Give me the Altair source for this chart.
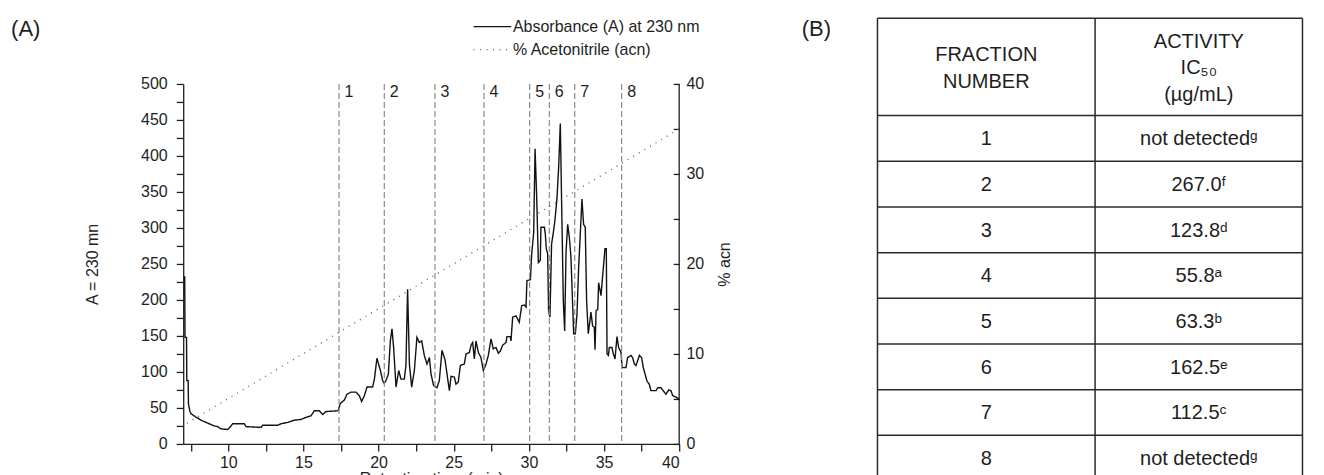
import altair as alt
import pandas as pd

FONT = "Liberation Sans"
INK = "#1e1e1e"

# ---------------- (A) chromatogram data ----------------
abs_time = [
    7.00, 7.10, 7.12, 7.22, 7.24, 7.33, 7.35, 7.45, 7.52, 7.80,
    8.18, 8.62, 9.07, 9.30, 9.51, 9.96, 10.18, 10.29, 11.07, 11.18,
    12.18, 12.29, 13.29, 13.51, 13.96, 14.39, 14.84, 15.17, 15.50, 15.72,
    16.05, 16.28, 16.50, 17.28, 17.32, 17.45, 17.61, 17.72, 17.90, 18.16,
    18.50, 18.72, 18.87, 19.05, 19.23, 19.60, 19.72, 19.89, 20.12, 20.27,
    20.38, 20.49, 20.65, 20.78, 20.89, 21.00, 21.16, 21.34, 21.49, 21.71,
    21.82, 21.93, 22.05, 22.20, 22.38, 22.55, 22.71, 22.87, 23.04, 23.22,
    23.38, 23.49, 23.66, 23.88, 24.04, 24.22, 24.42, 24.60, 24.71, 24.82,
    25.04, 25.15, 25.30, 25.44, 25.70, 25.82, 26.04, 26.15, 26.26, 26.37,
    26.48, 26.64, 26.81, 26.97, 27.15, 27.30, 27.48, 27.63, 27.81, 27.97,
    28.10, 28.25, 28.48, 28.54, 28.76, 28.81, 28.92, 29.14, 29.36, 29.52,
    29.70, 29.81, 29.87, 30.10, 30.18, 30.32, 30.41, 30.52, 30.63, 30.76,
    30.80, 31.03, 31.09, 31.16, 31.25, 31.31, 31.40, 31.51, 31.63, 31.74,
    31.87, 31.98, 32.09, 32.18, 32.29, 32.38, 32.47, 32.58, 32.69, 32.80,
    32.91, 32.98, 33.09, 33.20, 33.31, 33.42, 33.53, 33.64, 33.75, 33.84,
    33.95, 34.06, 34.13, 34.24, 34.35, 34.40, 34.47, 34.58, 34.64, 34.80,
    34.91, 35.06, 35.15, 35.20, 35.29, 35.35, 35.53, 35.62, 35.73, 35.86,
    35.97, 36.13, 36.20, 36.46, 36.57, 36.79, 36.90, 37.02, 37.13, 37.24,
    37.35, 37.50, 37.61, 37.73, 37.86, 38.01, 38.12, 38.46, 38.57, 38.79,
    38.97, 39.12, 39.30, 39.45, 39.57, 39.79, 39.94, 40.00,
]
abs_value = [
    232, 232, 148, 148, 88, 88, 55, 45, 42, 38,
    33, 29, 25, 24, 21, 20, 25, 28, 28, 24,
    23, 26, 26, 28, 30, 33, 34, 37, 39, 46,
    46, 41, 45, 46, 47, 56, 59, 61, 69, 72,
    72, 67, 59, 67, 79, 79, 90, 119, 102, 88,
    84, 88, 97, 143, 160, 134, 79, 102, 90, 90,
    109, 215, 111, 79, 102, 148, 141, 143, 123, 111,
    120, 97, 81, 78, 88, 130, 117, 90, 74, 94,
    93, 83, 86, 109, 111, 125, 127, 137, 141, 118,
    143, 127, 120, 102, 111, 123, 146, 132, 134, 126,
    129, 137, 141, 149, 149, 143, 176, 178, 169, 192,
    193, 190, 227, 228, 262, 294, 410, 342, 252, 255,
    301, 301, 292, 271, 264, 185, 176, 278, 294, 312,
    342, 384, 445, 333, 199, 157, 266, 305, 287, 259,
    194, 153, 153, 180, 245, 292, 340, 305, 301, 199,
    153, 171, 183, 164, 162, 131, 185, 187, 224, 206,
    234, 271, 271, 125, 123, 134, 134, 125, 118, 149,
    134, 127, 106, 106, 120, 123, 120, 111, 109, 116,
    123, 120, 106, 97, 87, 83, 74, 74, 78, 78,
    73, 69, 75, 74, 67, 65, 63, 61,
]
assert len(abs_time) == len(abs_value)

acn_time = [7.25, 40.0]
acn_pct = [2.3, 35.0]

cut_time = [17.37, 20.38, 23.75, 27.01, 30.05, 31.36, 33.05, 36.17]
cut_label = ["1", "2", "3", "4", "5", "6", "7", "8"]

x_domain = [7, 40]
x_tick_values = [7.5, 10, 12.5, 15, 17.5, 20, 22.5, 25, 27.5, 30, 32.5, 35, 37.5, 40]
abs_domain = [0, 500]
abs_tick_values = list(range(0, 501, 25))
acn_domain = [0, 40]
acn_tick_values = list(range(0, 41, 5))

series_names = ["Absorbance (A) at 230 nm", "% Acetonitrile (acn)"]
panel_labels = ["(A)", "(B)"]

# ---------------- (B) table data ----------------
header_lines = [["FRACTION", "NUMBER"], ["ACTIVITY", "IC\u2085\u2080", "(\u00b5g/mL)"]]
fraction_number = ["1", "2", "3", "4", "5", "6", "7", "8"]
activity_value = ["not detected", "267.0", "123.8", "55.8", "63.3", "162.5", "112.5", "not detected"]
activity_letter = ["g", "f", "d", "a", "b", "e", "c", "g"]

SUP = {"a": "\u1d43", "b": "\u1d47", "c": "\u1d9c", "d": "\u1d48",
       "e": "\u1d49", "f": "\u1da0", "g": "\u1d4d"}

# ================= chart (A) =================
abs_df = pd.DataFrame({"t": abs_time, "v": abs_value, "series": series_names[0]})
acn_df = pd.DataFrame({"t": acn_time, "v": acn_pct, "series": series_names[1]})
cut_df = pd.DataFrame({"t": cut_time, "label": cut_label})
edge_df = pd.DataFrame({"t": [x_domain[1]]})
pa_df = pd.DataFrame({"txt": [panel_labels[0]]})

x_scale = alt.Scale(domain=x_domain, nice=False, zero=False)
abs_scale = alt.Scale(domain=abs_domain, nice=False)
acn_scale = alt.Scale(domain=acn_domain, nice=False)

x_axis = alt.Axis(values=x_tick_values,
                  labelExpr="datum.value % 5 === 0 ? '' + datum.value : ''",
                  title="Retention time (min)", tickSize=7, labelPadding=3.5,
                  titlePadding=0, grid=False)
abs_axis = alt.Axis(values=abs_tick_values,
                    labelExpr="datum.value % 50 === 0 ? '' + datum.value : ''",
                    title="A = 230 mn", tickSize=7, labelPadding=9,
                    titlePadding=40.5, grid=False)
acn_axis = alt.Axis(orient="right", values=acn_tick_values,
                    labelExpr="datum.value % 10 === 0 ? '' + datum.value : ''",
                    title="% acn", titleAngle=270, titleBaseline="top",
                    titlePadding=12.5, offset=-6, domain=False, tickSize=6,
                    labelPadding=6.7, grid=False)

legend = alt.Legend(title=None, orient="none", legendX=289.7, legendY=-65.3,
                    symbolType="stroke", symbolSize=1420, symbolStrokeWidth=1.3,
                    clipHeight=16, rowPadding=7, labelOffset=1, padding=0,
                    labelFontSize=16, labelColor=INK, labelFont=FONT, labelLimit=400)
color = alt.Color("series:N", scale=alt.Scale(domain=series_names, range=["#121212", "#5c5c5c"]),
                  legend=legend)
dash = alt.StrokeDash("series:N", scale=alt.Scale(domain=series_names, range=[[1, 0], [1, 5.5]]),
                      legend=legend)

X = alt.X("t:Q", scale=x_scale, axis=x_axis)

abs_line = alt.Chart(abs_df).mark_line(strokeWidth=1.4).encode(
    x=X, y=alt.Y("v:Q", scale=abs_scale, axis=abs_axis),
    color=color, strokeDash=dash,
)
cut_rules = alt.Chart(cut_df).mark_rule(color="#8c8c8c", strokeWidth=1.2, strokeDash=[6, 3]).encode(x=X)
right_edge = alt.Chart(edge_df).mark_rule(color=INK, strokeWidth=1.3).encode(x=X)
cut_text = alt.Chart(cut_df).mark_text(align="left", baseline="middle", dx=5.5,
                                       fontSize=16, color=INK).encode(
    x=X,
    y=alt.YDatum(489, type="quantitative", scale=abs_scale, axis=abs_axis),
    text="label:N",
)
label_a = alt.Chart(pa_df).mark_text(align="left", baseline="top", fontSize=22, color=INK).encode(
    x=alt.value(-172.1), y=alt.value(-64.7), text="txt:N",
)
acn_line = alt.Chart(acn_df).mark_line(strokeWidth=1.3).encode(
    x=X, y=alt.Y("v:Q", scale=acn_scale, axis=acn_axis),
    color=color, strokeDash=dash,
)

inner = alt.layer(abs_line, cut_rules, right_edge, cut_text, label_a)
left = alt.layer(inner, acn_line).resolve_scale(y="independent").properties(width=496, height=360)

# ================= table (B) =================
# the table shares its top plot edge with panel (A); its header sits above that edge,
# so the table's row scale starts part-way into the header.
n_rows = len(fraction_number)
header_rows = 2.13
row_px = 45.67
above_px = 65.6
line_step = 0.585
total_rows = header_rows + n_rows
col_edges = [0.0, 0.512, 1.0]
row_edges = [0.0, header_rows] + [header_rows + i + 1 for i in range(n_rows)]
col_mid = [(col_edges[i] + col_edges[i + 1]) / 2 for i in range(2)]

hline_df = pd.DataFrame({"y": row_edges})
vline_df = pd.DataFrame({"x": col_edges, "y": [0.0] * 3, "y2": [total_rows] * 3})
head_rows = []
for c, lines in enumerate(header_lines):
    n = len(lines)
    for j, s in enumerate(lines):
        head_rows.append({"x": col_mid[c], "y": header_rows / 2 + 0.03 + (j - (n - 1) / 2) * line_step, "txt": s})
head_df = pd.DataFrame(head_rows)
cell_rows = []
for i in range(n_rows):
    cell_rows.append({"x": col_mid[0], "y": header_rows + i + 0.52, "txt": fraction_number[i]})
    cell_rows.append({"x": col_mid[1], "y": header_rows + i + 0.52,
                      "txt": activity_value[i] + SUP[activity_letter[i]]})
cell_df = pd.DataFrame(cell_rows)
pb_df = pd.DataFrame({"txt": [panel_labels[1]]})

y_start = above_px / row_px
table_h = (total_rows - y_start) * row_px
tx = alt.Scale(domain=[0, 1], nice=False, zero=False)
ty = alt.Scale(domain=[y_start, total_rows], nice=False, zero=False, reverse=True)
LINE = "#2a2a2a"

TX = alt.X("x:Q", scale=tx, axis=None)
TY = alt.Y("y:Q", scale=ty, axis=None)
t_h = alt.Chart(hline_df).mark_rule(color=LINE, strokeWidth=1.5).encode(y=TY)
t_v = alt.Chart(vline_df).mark_rule(color=LINE, strokeWidth=1.5).encode(x=TX, y=TY, y2="y2:Q")
t_head = alt.Chart(head_df).mark_text(fontSize=20, baseline="middle", align="center", color=INK).encode(
    x=TX, y=TY, text="txt:N")
t_cell = alt.Chart(cell_df).mark_text(fontSize=20, baseline="middle", align="center", color=INK).encode(
    x=TX, y=TY, text="txt:N")
label_b = alt.Chart(pb_df).mark_text(align="left", baseline="top", fontSize=22, color=INK).encode(
    x=alt.value(-75.7), y=alt.value(-64.7), text="txt:N")

table = alt.layer(t_h, t_v, t_head, t_cell, label_b).properties(width=425, height=table_h)

chart = alt.hconcat(left, table, spacing=69.3).properties(
    padding={"left": 2.2, "top": 8.95, "right": 0, "bottom": 0},
    background="white",
).configure(font=FONT).configure_view(strokeWidth=0).configure_axis(
    labelFontSize=16, titleFontSize=16, labelColor=INK, titleColor=INK,
    domainColor=INK, tickColor=INK, domainWidth=1.3, tickWidth=1.3,
    titleFontWeight="normal", labelFont=FONT, titleFont=FONT,
)

chart.save("out.html", embed_options={"renderer": "svg", "actions": False})
